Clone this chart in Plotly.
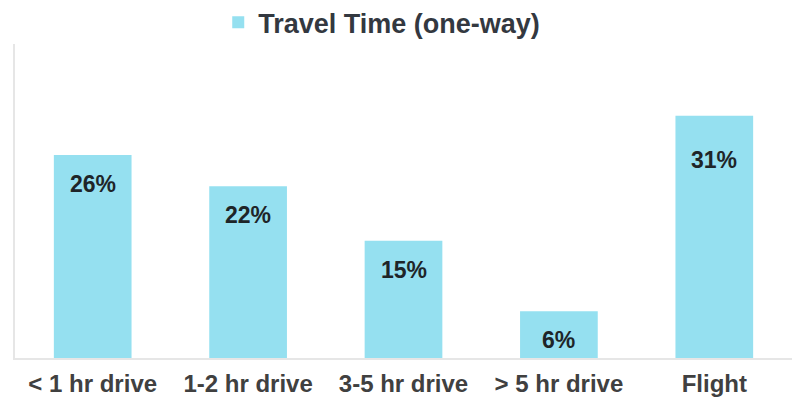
import plotly.graph_objects as go

categories = ["< 1 hr drive", "1-2 hr drive", "3-5 hr drive", "> 5 hr drive", "Flight"]
values = [26, 22, 15, 6, 31]
labels = ["26%", "22%", "15%", "6%", "31%"]
series_name = "Travel Time (one-way)"

# label offset below bar top (pixels), styling only
label_shift = {"Flight": -44}
default_shift = -29

fig = go.Figure()
fig.add_trace(go.Bar(
    x=categories, y=values, name=series_name,
    marker=dict(color="#95E0F0", line=dict(width=0)),
    width=0.5, showlegend=True,
))

for c, v, t in zip(categories, values, labels):
    fig.add_annotation(x=c, y=v, text=t, showarrow=False, yanchor="middle",
                       yshift=label_shift.get(c, default_shift),
                       font=dict(family="Liberation Sans, Arial", size=23, color="#1e2528",
                                 weight="bold"))

fig.update_layout(
    width=800, height=405,
    margin=dict(l=7, r=16, t=36, b=55, autoexpand=False),
    paper_bgcolor="white", plot_bgcolor="white",
    font=dict(family="Liberation Sans, Arial", color="#404040"),
    bargap=0.5,
    legend=dict(orientation="h", x=0.472, xanchor="center", y=0.99, yanchor="bottom",
                yref="paper", bgcolor="rgba(0,0,0,0)",
                font=dict(size=27, color="#333840", weight="bold"),
                itemwidth=30),
    xaxis=dict(showline=True, linecolor="#e6e6e6", linewidth=2, ticks="",
               tickfont=dict(size=24, color="#404040", weight="bold"), showgrid=False,
               ticklabelstandoff=3),
    yaxis=dict(range=[0, 40.2], showline=True, linecolor="#e6e6e6", linewidth=2,
               showticklabels=False, showgrid=False, zeroline=False, ticks=""),
)
fig.write_html("out.html")
